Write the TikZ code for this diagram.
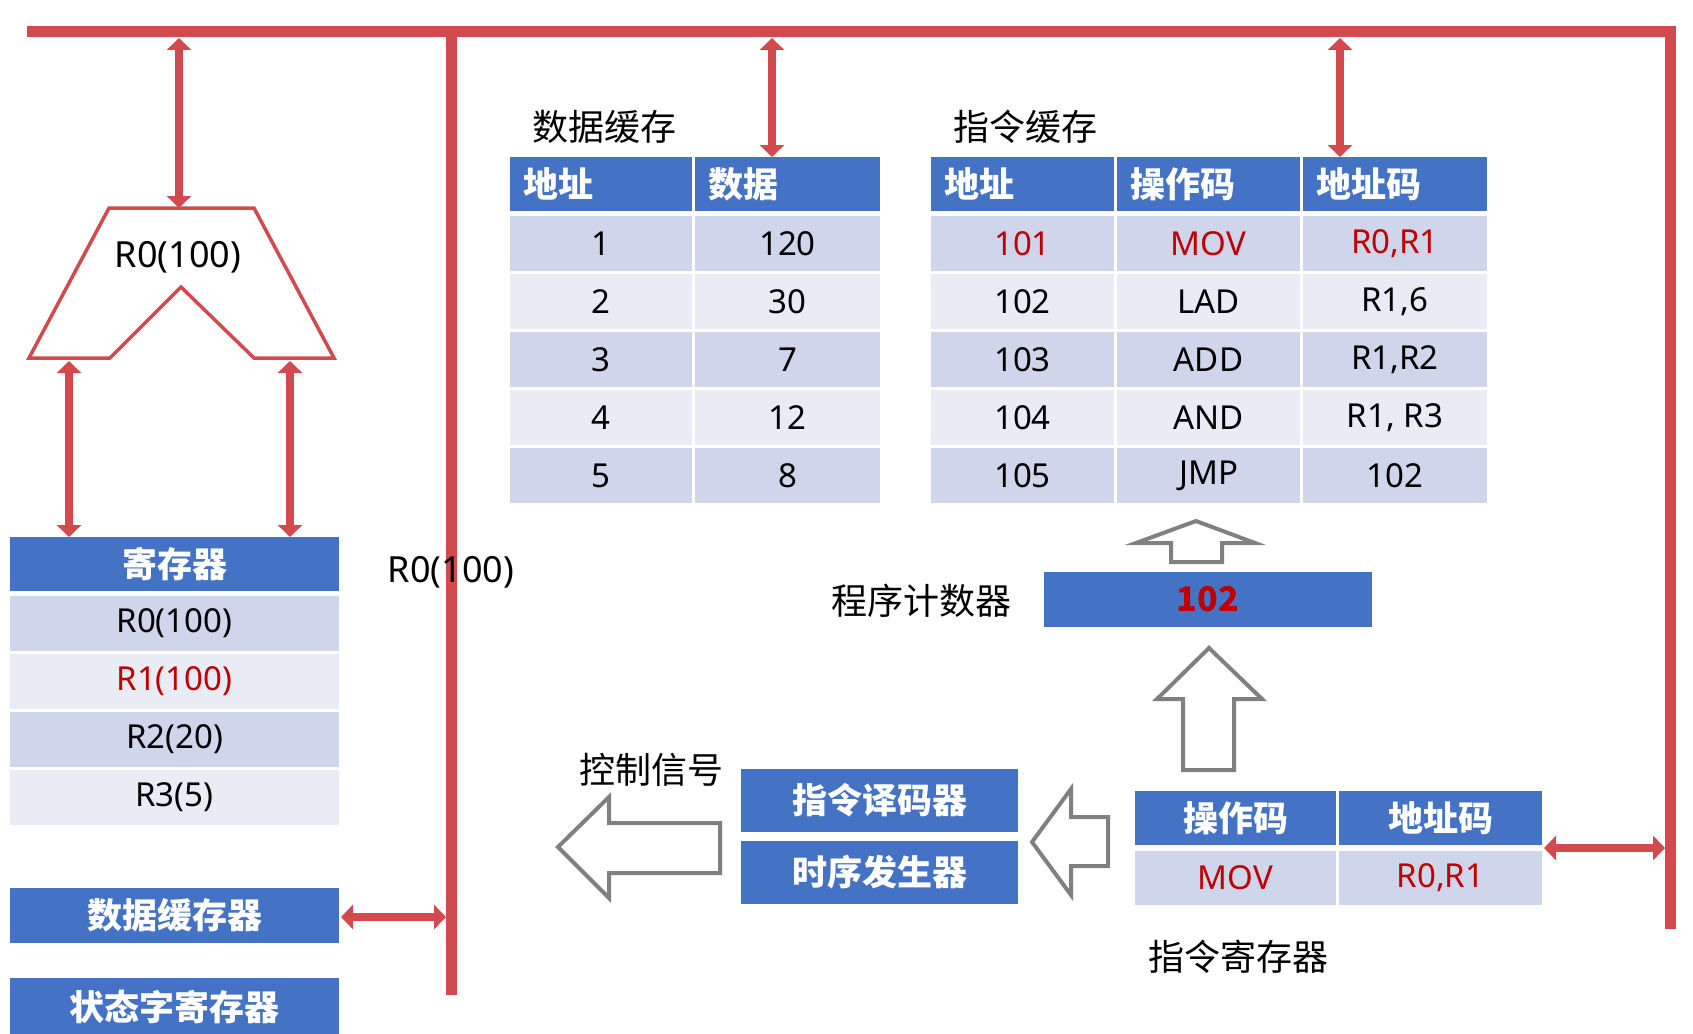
\documentclass[tikz,border=0pt]{standalone}
\usepackage{fontspec}
\setmainfont{Noto Sans}
\newfontfamily\cjk{Noto Sans CJK SC}
\usetikzlibrary{arrows.meta}
\definecolor{busred}{HTML}{D24A4E}
\definecolor{hdrblue}{HTML}{4472C4}
\definecolor{rowdark}{HTML}{CFD5EA}
\definecolor{rowlight}{HTML}{E9EBF5}
\definecolor{txtred}{HTML}{C00000}
\definecolor{arrgray}{HTML}{808080}
\newcommand\cellbox[7]{\node[#6, minimum width={(#4-#2)*1pt}, minimum height={(#5-#3)*1pt}] (#1) at ({(#2+#4)/2},{(#3+#5)/2}) {#7};}
\tikzset{
  bus/.style={draw=busred, line width=11pt, line join=miter},
  dbl/.style={draw=busred, line width=8pt, {Triangle[width=24pt,length=12pt]}-{Triangle[width=24pt,length=12pt]}},
  cellbase/.style={inner sep=0pt, outer sep=0pt, draw=none},
  hdr/.style={cellbase, fill=hdrblue, text=white, font=\cjk\bfseries\fontsize{35}{40}\selectfont},
  hdrtxt/.style={inner sep=0pt, text=white, font=\cjk\bfseries\fontsize{35}{40}\selectfont},
  dk/.style={cellbase, fill=rowdark, font=\fontsize{33}{38}\selectfont},
  lt/.style={cellbase, fill=rowlight, font=\fontsize{33}{38}\selectfont},
  lbl/.style={inner sep=0pt, font=\cjk\fontsize{36}{42}\selectfont},
  latlbl/.style={inner sep=0pt, font=\fontsize{36}{42}\selectfont},
  hollow/.style={draw=arrgray, line width=4pt, fill=white, line join=miter},
  alu/.style={draw=busred, line width=3.5pt, line join=miter}
}
\begin{document}
\begin{tikzpicture}[x=1pt,y=-1pt]
\useasboundingbox (0,0) rectangle (1693,1033);

% buses
\draw[bus] (27,32) -- (1670,32) -- (1670,929);
\draw[bus] (451,32) -- (451,995);

% ALU
\draw[alu] (109,208) -- (254,208) -- (334,358) -- (254,358) -- (181,287) -- (110,358) -- (29,358) -- cycle;
\node[latlbl] (alutxt) at (178,257) {R0(100)};
\coordinate (alutop) at (179,208);
\coordinate (alubl) at (69,361);
\coordinate (alubr) at (290,361);

% registers
\cellbox{reghdr}{10}{537}{339}{591}{hdr}{寄存器}
\cellbox{r0}{10}{596}{339}{651}{dk}{R0(100)}
\cellbox{r1}{10}{654}{339}{709}{lt}{\textcolor{txtred}{R1(100)}}
\cellbox{r2}{10}{712}{339}{767}{dk}{R2(20)}
\cellbox{r3}{10}{770}{339}{825}{lt}{R3(5)}
\cellbox{dbuf}{10}{888}{339}{943}{hdr}{数据缓存器}
\cellbox{psw}{10}{978}{339}{1036}{hdr}{状态字寄存器}

\node[latlbl] (buslbl) at (451,572) {R0(100)};

% data cache
\node[lbl] (dctitle) at (604,127) {数据缓存};
\cellbox{dhA}{510}{157}{692}{211}{hdr}{}
\cellbox{dhB}{695}{157}{880}{211}{hdr}{}
\node[hdrtxt, anchor=west] (dhAt) at ([xshift=13pt]dhA.west) {地址};
\node[hdrtxt, anchor=west] (dhBt) at ([xshift=13pt]dhB.west) {数据};
\cellbox{d1a}{510}{216}{692}{271}{dk}{1}
\cellbox{d1b}{695}{216}{880}{271}{dk}{120}
\cellbox{d2a}{510}{274}{692}{329}{lt}{2}
\cellbox{d2b}{695}{274}{880}{329}{lt}{30}
\cellbox{d3a}{510}{332}{692}{387}{dk}{3}
\cellbox{d3b}{695}{332}{880}{387}{dk}{7}
\cellbox{d4a}{510}{390}{692}{445}{lt}{4}
\cellbox{d4b}{695}{390}{880}{445}{lt}{12}
\cellbox{d5a}{510}{448}{692}{503}{dk}{5}
\cellbox{d5b}{695}{448}{880}{503}{dk}{8}

% instruction cache
\node[lbl] (ictitle) at (1025,127) {指令缓存};
\cellbox{ihA}{931}{157}{1114}{211}{hdr}{}
\cellbox{ihB}{1117}{157}{1300}{211}{hdr}{}
\cellbox{ihC}{1303}{157}{1487}{211}{hdr}{}
\node[hdrtxt, anchor=west] (ihAt) at ([xshift=13pt]ihA.west) {地址};
\node[hdrtxt, anchor=west] (ihBt) at ([xshift=13pt]ihB.west) {操作码};
\node[hdrtxt, anchor=west] (ihCt) at ([xshift=13pt]ihC.west) {地址码};
\cellbox{i1a}{931}{216}{1114}{271}{dk}{\textcolor{txtred}{101}}
\cellbox{i1b}{1117}{216}{1300}{271}{dk}{\textcolor{txtred}{MOV}}
\cellbox{i1c}{1303}{216}{1487}{271}{dk}{\textcolor{txtred}{R0,R1}}
\cellbox{i2a}{931}{274}{1114}{329}{lt}{102}
\cellbox{i2b}{1117}{274}{1300}{329}{lt}{LAD}
\cellbox{i2c}{1303}{274}{1487}{329}{lt}{R1,6}
\cellbox{i3a}{931}{332}{1114}{387}{dk}{103}
\cellbox{i3b}{1117}{332}{1300}{387}{dk}{ADD}
\cellbox{i3c}{1303}{332}{1487}{387}{dk}{R1,R2}
\cellbox{i4a}{931}{390}{1114}{445}{lt}{104}
\cellbox{i4b}{1117}{390}{1300}{445}{lt}{AND}
\cellbox{i4c}{1303}{390}{1487}{445}{lt}{R1, R3}
\cellbox{i5a}{931}{448}{1114}{503}{dk}{105}
\cellbox{i5b}{1117}{448}{1300}{503}{dk}{JMP}
\cellbox{i5c}{1303}{448}{1487}{503}{dk}{102}

% program counter
\node[lbl] (pclbl) at (921,601) {程序计数器};
\cellbox{pc}{1044}{572}{1372}{627}{hdr}{\cjk\bfseries\fontsize{34}{38}\selectfont\textcolor{txtred}{102}}

% instruction register
\cellbox{irA}{1135}{791}{1336}{845}{hdr}{操作码}
\cellbox{irB}{1339}{791}{1542}{845}{hdr}{地址码}
\cellbox{irC}{1135}{851}{1336}{905}{dk}{\textcolor{txtred}{MOV}}
\cellbox{irD}{1339}{851}{1542}{905}{dk}{\textcolor{txtred}{R0,R1}}
\node[lbl] (irlbl) at (1238,957) {指令寄存器};

% decoder / timing
\cellbox{dec}{741}{769}{1018}{832}{hdr}{指令译码器}
\cellbox{tim}{741}{841}{1018}{904}{hdr}{时序发生器}
\node[lbl] (ctl) at (651,770) {控制信号};

% hollow arrows
\draw[hollow] (558,847) -- (609,797) -- (609,823) -- (720,823) -- (720,873) -- (609,873) -- (609,898) -- cycle;
\draw[hollow] (1032,842) -- (1071,789) -- (1071,817) -- (1108,817) -- (1108,866) -- (1071,866) -- (1071,895) -- cycle;
\draw[hollow] (1209,648) -- (1262,699) -- (1234,699) -- (1234,770) -- (1183,770) -- (1183,699) -- (1157,699) -- cycle;
\draw[hollow] (1196,521) -- (1255,543) -- (1222,543) -- (1222,562) -- (1171,562) -- (1171,543) -- (1136,543) -- cycle;

% red double arrows
\coordinate (b1) at (179,38);
\coordinate (b2) at (772,38);
\coordinate (b3) at (1340,38);
\coordinate (bl) at (446,917);
\coordinate (br) at (1665,848);
\draw[dbl] (b1) -- (alutop);
\draw[dbl] (alubl) -- (alubl |- reghdr.north);
\draw[dbl] (alubr) -- (alubr |- reghdr.north);
\draw[dbl] (b2) -- (b2 |- dhB.north);
\draw[dbl] (b3) -- (b3 |- ihC.north);
\draw[dbl] ([xshift=2pt]dbuf.east |- bl) -- (bl);
\draw[dbl] ([xshift=2pt]irB.east |- br) -- (br);
\end{tikzpicture}
\end{document}
